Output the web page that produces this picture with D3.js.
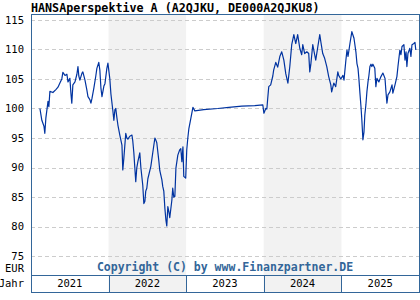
<!DOCTYPE html>
<html>
<head>
<meta charset="utf-8">
<script src="https://cdn.jsdelivr.net/npm/d3@7"></script>
<style>
  body { margin: 0; background: #fff; }
  svg { display: block; }
  text { font-family: "DejaVu Sans Mono", "Liberation Mono", monospace; }
</style>
</head>
<body>
<div id="chart"></div>
<script>
const title = "HANSAperspektive A (A2QJKU, DE000A2QJKU8)";
const copyright = "Copyright (C) by www.Finanzpartner.DE";

const years = [2021, 2022, 2023, 2024, 2025];
const shadedYears = [2022, 2024];
const yTicks = [75, 80, 85, 90, 95, 100, 105, 110, 115];

const dates = [
  "2021-02-12","2021-02-21","2021-02-26","2021-03-03","2021-03-07","2021-03-12","2021-03-22","2021-03-26","2021-03-31","2021-04-14",
  "2021-04-28","2021-05-08","2021-05-17","2021-05-26","2021-05-31","2021-06-10","2021-06-19","2021-06-24","2021-07-03","2021-07-08",
  "2021-07-12","2021-07-17","2021-07-27","2021-08-05","2021-08-10","2021-08-14","2021-08-19","2021-08-29","2021-09-02","2021-09-12",
  "2021-09-21","2021-09-26","2021-10-05","2021-10-10","2021-10-15","2021-10-24","2021-11-02","2021-11-07","2021-11-16","2021-11-21",
  "2021-11-26","2021-12-01","2021-12-10","2021-12-15","2021-12-24","2021-12-29",
  "2022-01-02","2022-01-07","2022-01-12","2022-01-21","2022-01-26","2022-01-31","2022-02-04","2022-02-09","2022-02-14","2022-02-23",
  "2022-03-05","2022-03-09","2022-03-14","2022-03-23","2022-03-28","2022-04-02","2022-04-11","2022-04-21","2022-04-25","2022-04-30",
  "2022-05-09","2022-05-14","2022-05-19","2022-05-28","2022-06-02","2022-06-11","2022-06-16","2022-06-21","2022-06-25","2022-06-30",
  "2022-07-05","2022-07-19","2022-07-28","2022-08-07","2022-08-12","2022-08-16","2022-08-26","2022-08-30","2022-09-09","2022-09-13",
  "2022-09-18","2022-09-23","2022-09-28","2022-10-02","2022-10-07","2022-10-12","2022-10-16","2022-10-26","2022-10-30","2022-11-04",
  "2022-11-09","2022-11-14","2022-11-23","2022-12-02","2022-12-07","2022-12-12","2022-12-17","2022-12-21","2022-12-30",
  "2023-01-04","2023-01-09","2023-01-14","2023-01-23","2023-02-02","2023-02-11","2023-03-25","2023-05-30","2023-07-21","2023-09-20",
  "2023-11-20","2023-12-28",
  "2024-01-02","2024-01-11","2024-01-16","2024-01-20","2024-01-25","2024-02-03","2024-02-13","2024-02-17","2024-02-27","2024-03-07",
  "2024-03-17","2024-03-26","2024-04-05","2024-04-14","2024-04-24","2024-05-03","2024-05-12","2024-05-22","2024-05-31","2024-06-09",
  "2024-06-19","2024-06-28","2024-07-03","2024-07-12","2024-07-22","2024-07-31","2024-08-05","2024-08-10","2024-08-19","2024-08-28",
  "2024-09-02","2024-09-12","2024-09-21","2024-09-26","2024-10-05","2024-10-14","2024-10-24","2024-11-02","2024-11-12","2024-11-16",
  "2024-11-26","2024-12-05","2024-12-15","2024-12-19","2024-12-29",
  "2025-01-08","2025-01-13","2025-01-22","2025-01-27","2025-02-01","2025-02-10","2025-02-19","2025-03-01","2025-03-10","2025-03-15",
  "2025-03-20","2025-03-24","2025-03-29","2025-04-03","2025-04-07","2025-04-12","2025-04-17","2025-04-21","2025-04-26","2025-05-01",
  "2025-05-06","2025-05-10","2025-05-15","2025-05-20","2025-05-24","2025-05-29","2025-06-07","2025-06-12","2025-06-17","2025-06-26",
  "2025-07-06","2025-07-15","2025-07-25","2025-07-29","2025-08-03","2025-08-08","2025-08-17","2025-08-27","2025-08-31","2025-09-10",
  "2025-09-19","2025-09-24","2025-10-03","2025-10-08","2025-10-13","2025-10-22","2025-10-27","2025-11-01","2025-11-05","2025-11-10",
  "2025-11-19","2025-11-24","2025-11-29","2025-12-08","2025-12-13","2025-12-17"
];

const prices = [
  100.0, 98.0, 97.5, 97.0, 95.8, 98.4, 101.2, 100.3, 102.9, 102.7,
  103.2, 103.6, 104.3, 105.0, 106.1, 105.6, 105.8, 104.5, 105.1, 102.5,
  100.9, 104.0, 104.5, 105.8, 107.1, 105.5, 104.8, 106.0, 106.2, 104.8,
  103.1, 102.0, 101.5, 100.9, 101.7, 103.5, 105.5, 106.8, 107.8, 106.5,
  103.5, 102.0, 103.8, 104.2, 106.8, 107.7,
  106.5, 105.0, 102.5, 99.7, 98.0, 99.8, 100.0, 98.5, 97.2, 95.5,
  93.8, 89.6, 91.6, 95.8, 95.0, 94.8, 95.3, 95.5, 94.5, 92.5,
  87.6, 90.0, 91.0, 92.5, 90.0, 87.0, 83.9, 84.3, 86.0, 86.5,
  88.1, 90.2, 92.5, 95.0, 94.6, 94.2, 91.0, 89.5, 87.9, 86.8,
  86.0, 83.1, 81.1, 80.1, 83.4, 82.5, 81.5, 84.5, 86.5, 85.0,
  85.1, 89.9, 92.1, 93.0, 93.2, 91.0, 93.5, 88.5, 88.2,
  93.0, 95.0, 96.6, 98.3, 100.2, 99.6, 99.8, 100.0, 100.2, 100.4,
  100.5, 100.6,
  99.2, 100.0, 99.9, 101.7, 103.7, 104.0, 105.5, 106.5, 107.8, 107.0,
  108.8, 109.6, 108.2, 105.9, 104.3, 107.1, 110.8, 112.5, 111.0, 112.5,
  110.2, 109.1, 110.8, 109.3, 109.6, 109.3, 106.2, 107.5, 110.8, 109.1,
  108.2, 110.5, 112.5, 111.3, 109.3, 108.5, 107.1, 105.4, 104.0, 102.8,
  104.3, 103.7, 106.2, 105.6, 105.0,
  105.6, 104.8, 108.2, 109.9, 108.8, 111.0, 113.0, 111.9, 109.6, 107.6,
  106.8, 105.1, 102.6, 100.3, 98.1, 94.7, 96.0, 98.9, 100.6, 102.9,
  104.5, 105.5, 107.1, 107.5, 107.1, 107.5, 106.8, 103.7, 105.1, 104.5,
  105.4, 106.0, 105.1, 103.1, 100.9, 102.3, 102.8, 104.0, 102.6, 104.0,
  105.4, 107.1, 109.9, 109.1, 110.5, 110.8, 108.2, 109.6, 107.1, 109.3,
  110.2, 108.8, 110.8, 111.0, 111.2, 109.9
];

const width = 420, height = 300;
const plotLeft = 31, plotRight = 419, plotTop = 14, plotBottom = 275, yearRowBottom = 292;
const frameColor = "#336699";

const parse = d3.timeParse("%Y-%m-%d");
const data = dates.map((d, i) => ({ date: parse(d), value: prices[i] }));

const svg = d3.select("#chart").append("svg")
  .attr("width", width)
  .attr("height", height);

const x = d3.scaleTime()
  .domain([new Date(years[0], 0, 1), new Date(years[years.length - 1] + 1, 0, 1)])
  .range([plotLeft, plotRight]);
const y = d3.scaleLinear()
  .domain([71.8, 116.0])
  .range([plotBottom, plotTop]);

// shaded years, through plot and year row
svg.selectAll("rect.shade").data(shadedYears).enter().append("rect")
  .attr("class", "shade")
  .attr("x", d => x(new Date(d, 0, 1)))
  .attr("y", plotTop)
  .attr("width", d => x(new Date(d + 1, 0, 1)) - x(new Date(d, 0, 1)))
  .attr("height", yearRowBottom - plotTop)
  .attr("fill", "#f2f2f2");

// grid
svg.selectAll("line.grid").data(yTicks).enter().append("line")
  .attr("class", "grid")
  .attr("x1", plotLeft).attr("x2", plotRight)
  .attr("y1", d => Math.round(y(d)) + 0.5)
  .attr("y2", d => Math.round(y(d)) + 0.5)
  .attr("stroke", "#cccccc")
  .attr("stroke-dasharray", "4,3");

// y labels
svg.selectAll("text.ylab").data(yTicks).enter().append("text")
  .attr("class", "ylab")
  .attr("x", 24)
  .attr("y", d => y(d))
  .attr("dy", "0.36em")
  .attr("text-anchor", "end")
  .style("font-size", "10.5px")
  .text(d => d);

svg.append("text")
  .attr("x", 24).attr("y", 268).attr("dy", "0.36em")
  .attr("text-anchor", "end")
  .style("font-size", "10.5px")
  .text("EUR");

svg.append("text")
  .attr("x", 24).attr("y", 283.5).attr("dy", "0.36em")
  .attr("text-anchor", "end")
  .style("font-size", "10.5px")
  .text("Jahr");

// year labels and separators
svg.selectAll("text.year").data(years).enter().append("text")
  .attr("class", "year")
  .attr("x", d => (x(new Date(d, 0, 1)) + x(new Date(d + 1, 0, 1))) / 2)
  .attr("y", 283.5)
  .attr("dy", "0.36em")
  .attr("text-anchor", "middle")
  .style("font-size", "10.5px")
  .text(d => d);

svg.selectAll("line.ysep").data(years.slice(1)).enter().append("line")
  .attr("class", "ysep")
  .attr("x1", d => Math.round(x(new Date(d, 0, 1))) + 0.5)
  .attr("x2", d => Math.round(x(new Date(d, 0, 1))) + 0.5)
  .attr("y1", plotBottom).attr("y2", yearRowBottom)
  .attr("stroke", frameColor);

// copyright
svg.append("text")
  .attr("x", (plotLeft + plotRight) / 2)
  .attr("y", 271)
  .attr("text-anchor", "middle")
  .style("font-size", "11.5px")
  .style("font-weight", "bold")
  .attr("fill", frameColor)
  .text(copyright);

// price line
const line = d3.line()
  .x(d => x(d.date))
  .y(d => y(d.value));

svg.append("path")
  .datum(data)
  .attr("d", line)
  .attr("fill", "none")
  .attr("stroke", "#0033a0")
  .attr("stroke-width", 1.2)
  .attr("stroke-linejoin", "round");

// frame
svg.append("rect")
  .attr("x", plotLeft + 0.5).attr("y", plotTop + 0.5)
  .attr("width", plotRight - plotLeft).attr("height", plotBottom - plotTop)
  .attr("fill", "none")
  .attr("stroke", frameColor);
svg.append("line")
  .attr("x1", plotLeft + 0.5).attr("x2", plotLeft + 0.5)
  .attr("y1", plotBottom).attr("y2", yearRowBottom + 0.5)
  .attr("stroke", frameColor);
svg.append("line")
  .attr("x1", plotRight + 0.5).attr("x2", plotRight + 0.5)
  .attr("y1", plotBottom).attr("y2", yearRowBottom + 0.5)
  .attr("stroke", frameColor);
svg.append("line")
  .attr("x1", plotLeft).attr("x2", plotRight + 1)
  .attr("y1", yearRowBottom + 0.5).attr("y2", yearRowBottom + 0.5)
  .attr("stroke", frameColor);

// title
svg.append("text")
  .attr("x", plotLeft)
  .attr("y", 11.5)
  .style("font-size", "11.7px")
  .style("font-weight", "bold")
  .text(title);
</script>
</body>
</html>
